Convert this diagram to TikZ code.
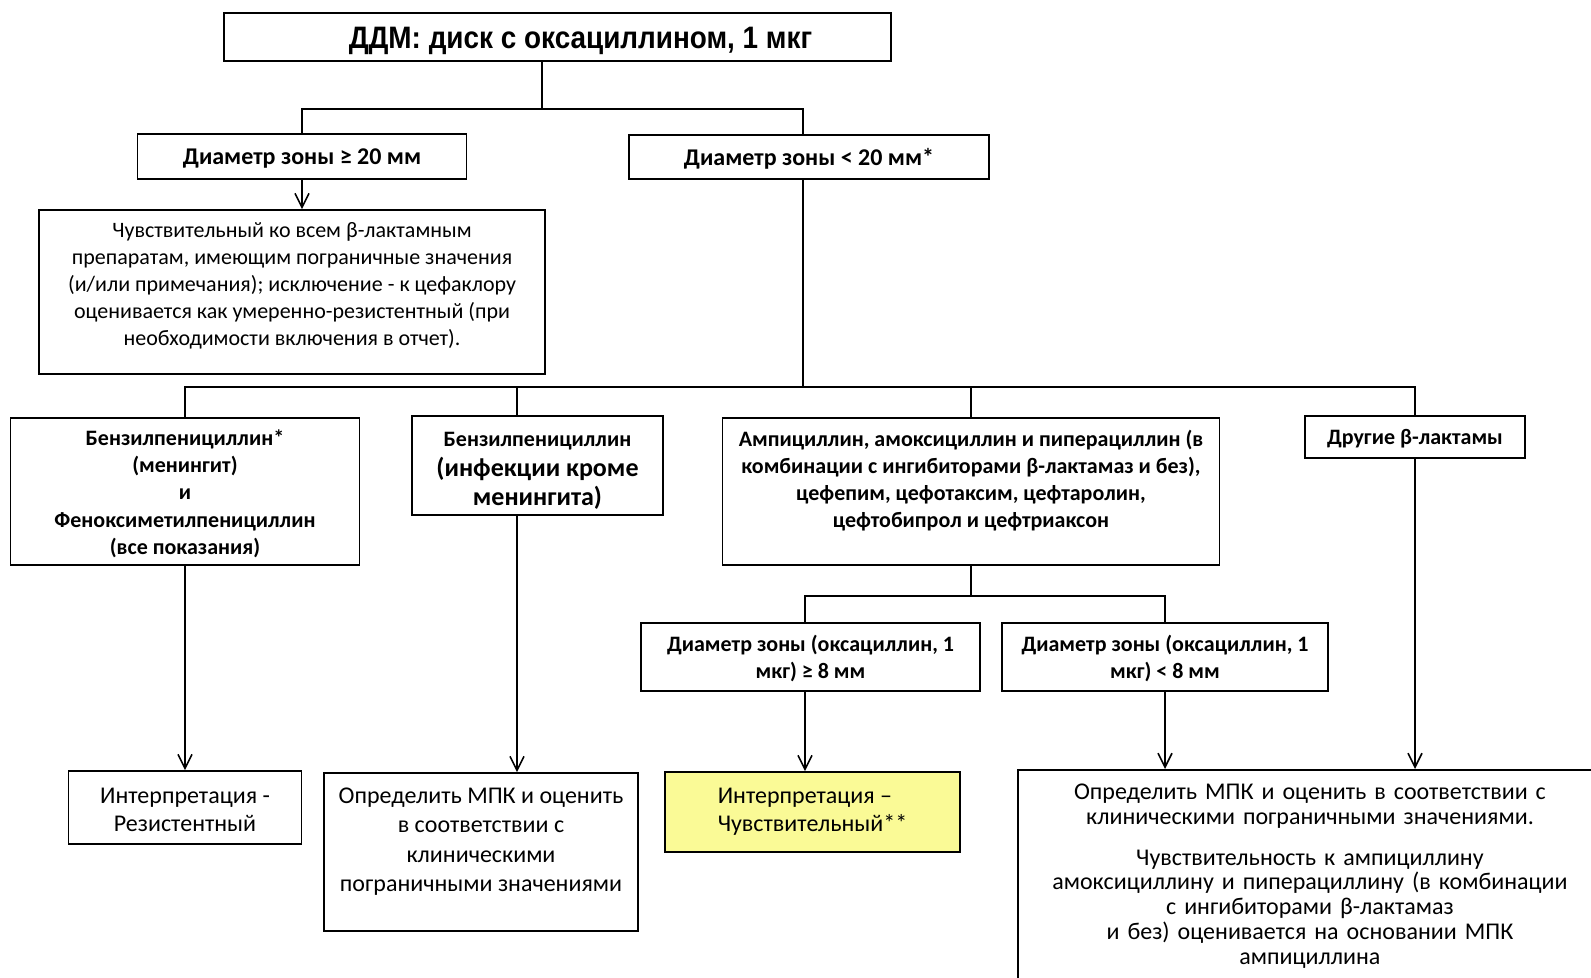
\documentclass[tikz,border=0pt]{standalone}
\usepackage{fontspec}
\setmainfont{Carlito}
\newfontfamily\titlefont[FakeStretch=0.9]{Liberation Sans}
\usetikzlibrary{arrows.meta,positioning}

\definecolor{resultyellow}{RGB}{250,250,150}

\begin{document}
\begin{tikzpicture}[
x=0.5pt, y=-0.5pt,
box/.style={draw, line width=0.9pt, align=center, inner sep=3pt, font=\fontsize{11}{13.4}\selectfont},
head/.style={box, font=\bfseries\fontsize{11}{13.6}\selectfont},
line/.style={line width=0.8pt},
arrow/.style={line, -{Straight Barb[length=7pt, width=7pt]}}
]
\useasboundingbox (0,0) rectangle (1591,978);
\clip (0,0) rectangle (1591,978);

% top level
\node[box, minimum width=333.5pt, minimum height=24pt, text height=11.5pt, text depth=0pt, font=\titlefont\bfseries\fontsize{15.5}{17}\selectfont] (T) at (557.5,37) {\hspace*{23pt}ДДМ: диск с оксациллином, 1 мкг};
\node[head, minimum width=164.5pt, minimum height=22.5pt, text depth=0pt, font=\bfseries\fontsize{12}{14}\selectfont] (A) at (302,156.5) {Диаметр зоны ≥ 20 мм};
\node[head, minimum width=180pt, minimum height=22pt, text depth=0pt, font=\bfseries\fontsize{12}{14}\selectfont] (B) at (809,157) {Диаметр зоны < 20 мм*};
\node[box, minimum width=253pt, minimum height=82pt] (C) at (292,292) {Чувствительный ко всем β-лактамным\\
препаратам, имеющим пограничные значения\\
(и/или примечания); исключение - к цефаклору\\
оценивается как умеренно-резистентный (при\\
необходимости включения в отчет).\\[-9.5pt] \strut};

% groups of drugs
\node[head, minimum width=174.5pt, minimum height=73.5pt] (D) at (185,491.5) {\rule{0pt}{10pt}Бензилпенициллин*\\(менингит)\\и\\Феноксиметилпенициллин\\(все показания)};
\node[head, minimum width=125.5pt, minimum height=49.5pt] (E) at (537.5,465.5) {\rule{0pt}{12.5pt}Бензилпенициллин\\[1pt]{\fontsize{13}{14}\selectfont (инфекции кроме}\\[1pt]{\fontsize{13}{14}\selectfont менингита)}};
\node[head, minimum width=248.5pt, minimum height=73.5pt] (F) at (971,491.5) {Ампициллин, амоксициллин и пиперациллин (в\\
комбинации с ингибиторами β-лактамаз и без),\\
цефепим, цефотаксим, цефтаролин,\\
цефтобипрол и цефтриаксон\\[-5pt] \strut};
\node[head, minimum width=110pt, minimum height=21pt, text depth=0pt] (G) at (1415,437) {Другие β-лактамы};
\node[head, minimum width=169.5pt, minimum height=34pt] (H) at (810.5,657) {\rule{0pt}{10pt}Диаметр зоны (оксациллин, 1\\мкг) ≥ 8 мм};
\node[head, minimum width=163pt, minimum height=34pt] (I) at (1165,657) {\rule{0pt}{10pt}Диаметр зоны (оксациллин, 1\\мкг) < 8 мм};

% results
\node[box, minimum width=116.5pt, minimum height=36.5pt, font=\fontsize{12}{14}\selectfont] (J) at (185,807.5) {\rule{0pt}{10.5pt}Интерпретация -\\Резистентный};
\node[box, minimum width=157pt, minimum height=79pt, font=\fontsize{12}{14.7}\selectfont] (K) at (481,852) {Определить МПК и оценить\\
в соответствии с\\
клиническими\\
пограничными значениями\\[-7pt] \strut};
\node[box, fill=resultyellow, align=left, minimum width=147.5pt, minimum height=40pt, font=\fontsize{12}{14}\selectfont] (L) at (812.5,812) {Интерпретация –\\Чувствительный**};
\node[box, anchor=north west, text width=280pt, inner xsep=6pt, inner ysep=7pt, font=\fontsize{12}{12.4}\selectfont] (M) at (1017,769) {Определить МПК и оценить в соответствии с\\
клиническими пограничными значениями.\\[8pt]
Чувствительность к ампициллину\\
амоксициллину и пиперациллину (в комбинации\\
с ингибиторами β-лактамаз\\
и без) оценивается на основании МПК\\
ампициллина\\ \strut};

% branch points
\coordinate (b1) at (542,109);
\coordinate (b2) at (803,387);
\coordinate (b3) at (971,596);
\coordinate (cE) at (517,387);
\coordinate (cH) at (805,596);

\draw[line] (T.south -| b1) -- (b1);
\draw[line] (A.north) |- (b1) -| (B.north -| b2);
\draw[arrow] (A.south) -- (A.south |- C.north);

\draw[line] (B.south -| b2) -- (b2);
\draw[line] (D.north) |- (G.north |- b2) -- (G.north);
\draw[line] (cE) -- (E.north -| cE);
\draw[line] (F.north) -- (F.north |- b2);

\draw[line] (F.south) -- (b3);
\draw[line] (H.north -| cH) |- (b3) -| (I.north);

\draw[arrow] (D.south) -- (J.north);
\draw[arrow] (E.south -| cE) -- (K.north -| cE);
\draw[arrow] (H.south -| cH) -- (L.north -| cH);
\draw[arrow] (I.south) -- (I.south |- M.north);
\draw[arrow] (G.south) -- (G.south |- M.north);
\end{tikzpicture}
\end{document}
